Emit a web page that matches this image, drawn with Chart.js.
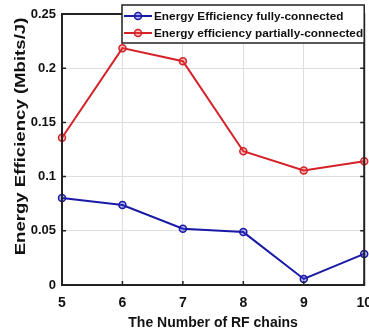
<!DOCTYPE html>
<html>
<head>
<meta charset="utf-8">
<script src="https://cdn.jsdelivr.net/npm/chart.js@4"></script>
<style>
  html, body { margin: 0; padding: 0; background: #fff; overflow: hidden; }
  #wrap { width: 382px; height: 335px; }
</style>
</head>
<body>
<div id="wrap"><canvas id="eeChart"></canvas></div>
<script>
// --- Données ---
const rfChains = ['5', '6', '7', '8', '9', '10'];
const eeFully = [0.0803, 0.0738, 0.0519, 0.0488, 0.0056, 0.0287];
const eePartially = [0.1358, 0.2185, 0.2065, 0.1234, 0.1056, 0.1142];
const yTickLabels = ['0', '0.05', '0.1', '0.15', '0.2', '0.25'];
const seriesNames = ['Energy Efficiency fully-connected', 'Energy efficiency partially-connected'];
const xTitle = 'The Number of RF chains';
const yTitle = 'Energy Efficiency (Mbits/J)';

const BLUE = '#1a1aa6';
const RED = '#d42228';
const FONT = 'Liberation Sans, Arial, sans-serif';

// --- Cadre noir + petites graduations vers l'intérieur ---
const framePlugin = {
    id: 'frame',
    afterDatasetsDraw(chart) {
        const { ctx, chartArea: a, scales } = chart;
        ctx.save();
        ctx.strokeStyle = '#222';
        ctx.lineWidth = 1.5;
        ctx.beginPath();
        scales.y.ticks.forEach((t, i) => {
            const y = scales.y.getPixelForTick(i);
            ctx.moveTo(a.left, y); ctx.lineTo(a.left + 4, y);
            ctx.moveTo(a.right, y); ctx.lineTo(a.right - 4, y);
        });
        scales.x.ticks.forEach((t, i) => {
            const x = scales.x.getPixelForTick(i);
            ctx.moveTo(x, a.bottom); ctx.lineTo(x, a.bottom - 4);
            ctx.moveTo(x, a.top); ctx.lineTo(x, a.top + 4);
        });
        ctx.stroke();
        ctx.lineWidth = 2;
        ctx.strokeRect(a.left, a.top, a.right - a.left, a.bottom - a.top);
        ctx.restore();
    }
};

// --- Titre vertical (un peu étiré dans le sens du texte) ---
const yTitlePlugin = {
    id: 'yTitle',
    afterDraw(chart) {
        const { ctx, chartArea: a } = chart;
        ctx.save();
        ctx.translate(21, (a.top + a.bottom) / 2 - 13);
        ctx.rotate(-Math.PI / 2);
        ctx.scale(1.24, 1);
        ctx.font = 'bold 15px ' + FONT;
        ctx.fillStyle = '#111';
        ctx.textAlign = 'center';
        ctx.textBaseline = 'middle';
        ctx.fillText(yTitle, 0, 0);
        ctx.restore();
    }
};

// --- Légende encadrée en haut à droite ---
const legendBoxPlugin = {
    id: 'legendBox',
    afterDraw(chart) {
        const { ctx, chartArea: a } = chart;
        const x0 = a.left + 60, y0 = 5, w = a.right - x0, h = 38;
        ctx.save();
        ctx.fillStyle = '#fff';
        ctx.fillRect(x0, y0, w, h);
        ctx.strokeStyle = '#222';
        ctx.lineWidth = 1.5;
        ctx.strokeRect(x0, y0, w, h);
        chart.data.datasets.forEach((ds, i) => {
            const y = y0 + 11 + i * 17;
            ctx.strokeStyle = ds.borderColor;
            ctx.lineWidth = 2;
            ctx.beginPath();
            ctx.moveTo(x0 + 2, y); ctx.lineTo(x0 + 30, y);
            ctx.stroke();
            ctx.fillStyle = ds.pointBackgroundColor;
            ctx.lineWidth = 1.5;
            ctx.beginPath();
            ctx.arc(x0 + 16, y, 3.5, 0, Math.PI * 2);
            ctx.fill(); ctx.stroke();
            ctx.fillStyle = '#111';
            ctx.font = 'bold 11.8px "Liberation Sans Narrow", ' + FONT;
            ctx.textBaseline = 'middle';
            ctx.fillText(ds.label, x0 + 32, y + 1);
        });
        ctx.restore();
    }
};

const ctx = document.getElementById('eeChart').getContext('2d');
new Chart(ctx, {
    type: 'line',
    data: {
        labels: rfChains,
        datasets: [{
            label: seriesNames[0],
            data: eeFully,
            borderColor: BLUE,
            pointBackgroundColor: 'rgba(60,60,220,0.35)',
            pointBorderColor: BLUE,
            borderWidth: 2,
            pointRadius: 3.5,
            pointBorderWidth: 1.5,
            tension: 0
        }, {
            label: seriesNames[1],
            data: eePartially,
            borderColor: RED,
            pointBackgroundColor: 'rgba(240,70,70,0.35)',
            pointBorderColor: RED,
            borderWidth: 2,
            pointRadius: 3.5,
            pointBorderWidth: 1.5,
            tension: 0
        }]
    },
    options: {
        responsive: true,
        maintainAspectRatio: false,
        animation: false,
        layout: { padding: { top: 14, right: 0, left: 0, bottom: 0 } },
        plugins: {
            legend: { display: false },
            tooltip: { enabled: false }
        },
        scales: {
            x: {
                type: 'category',
                offset: false,
                grid: { color: '#dedede', lineWidth: 1, drawTicks: false },
                border: { display: false },
                ticks: {
                    color: '#111',
                    font: { family: FONT, size: 14, weight: 'bold' },
                    padding: 10,
                    maxRotation: 0
                },
                title: {
                    display: true,
                    text: xTitle,
                    color: '#111',
                    font: { family: FONT, size: 14, weight: 'bold' },
                    padding: { top: 2, bottom: 3 }
                },
                afterFit(scale) { scale.height = 50; }
            },
            y: {
                min: 0,
                max: 0.25,
                ticks: {
                    stepSize: 0.05,
                    color: '#111',
                    font: { family: FONT, size: 13, weight: 'bold' },
                    padding: 6,
                    callback: (v, i) => yTickLabels[i]
                },
                grid: { color: '#dedede', lineWidth: 1, drawTicks: false },
                border: { display: false },
                afterFit(scale) { scale.width = 62; }
            }
        }
    },
    plugins: [framePlugin, yTitlePlugin, legendBoxPlugin]
});
</script>
</body>
</html>
